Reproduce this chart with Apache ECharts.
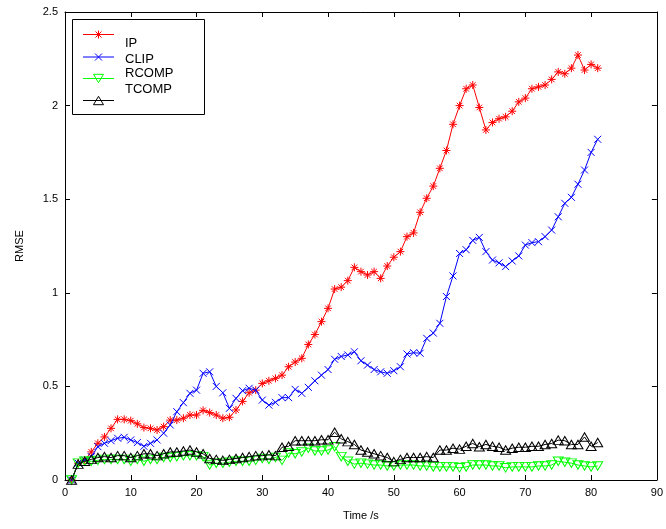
<!DOCTYPE html>
<html>
<head>
<meta charset="utf-8">
<script src="https://cdn.jsdelivr.net/npm/echarts@6/dist/echarts.min.js"></script>
<style>
html,body{margin:0;padding:0;background:#fff;}
#chart{width:666px;height:529px;}
</style>
</head>
<body>
<div id="chart"></div>
<script>
// time steps (s)
const time = [];
for (let t = 1; t <= 81; t++) time.push(t);

const xTicks = [0,10,20,30,40,50,60,70,80,90];
const yTicks = [0,0.5,1,1.5,2,2.5];

const ip = [0,0.09,0.107,0.15,0.196,0.23,0.276,0.324,0.324,0.317,
  0.30,0.28,0.276,0.267,0.285,0.32,0.32,0.33,0.347,0.347,
  0.372,0.36,0.347,0.33,0.335,0.374,0.42,0.466,0.48,0.516,
  0.53,0.543,0.56,0.605,0.63,0.65,0.724,0.777,0.846,0.917,
  1.02,1.03,1.065,1.136,1.113,1.095,1.113,1.077,1.143,1.19,
  1.22,1.30,1.32,1.43,1.505,1.57,1.665,1.76,1.90,2.0,
  2.09,2.11,1.99,1.87,1.91,1.93,1.94,1.97,2.02,2.04,
  2.09,2.10,2.11,2.14,2.18,2.17,2.20,2.27,2.19,2.22,2.20];

const clip = [0,0.09,0.107,0.125,0.178,0.196,0.21,0.223,0.228,0.214,
  0.2,0.18,0.196,0.214,0.25,0.294,0.365,0.413,0.463,0.48,
  0.57,0.578,0.50,0.466,0.383,0.436,0.477,0.49,0.48,0.427,
  0.40,0.415,0.44,0.44,0.484,0.463,0.495,0.53,0.56,0.59,
  0.645,0.66,0.668,0.685,0.637,0.614,0.59,0.578,0.57,0.584,
  0.605,0.673,0.68,0.677,0.757,0.785,0.837,0.98,1.09,1.21,
  1.23,1.28,1.296,1.22,1.175,1.16,1.14,1.17,1.197,1.255,
  1.268,1.273,1.30,1.335,1.406,1.478,1.51,1.58,1.656,1.75,1.82];

const rcomp = [0,0.09,0.10,0.10,0.105,0.11,0.11,0.11,0.11,0.10,
  0.11,0.10,0.11,0.11,0.12,0.12,0.125,0.13,0.13,0.13,
  0.125,0.08,0.09,0.09,0.095,0.10,0.10,0.10,0.105,0.115,
  0.11,0.12,0.105,0.144,0.14,0.15,0.17,0.155,0.155,0.16,
  0.178,0.125,0.10,0.085,0.09,0.085,0.08,0.08,0.075,0.075,
  0.08,0.08,0.08,0.075,0.075,0.07,0.07,0.07,0.07,0.065,
  0.07,0.08,0.08,0.08,0.075,0.075,0.065,0.07,0.07,0.07,
  0.07,0.075,0.075,0.08,0.10,0.095,0.09,0.08,0.075,0.07,0.075];

const tcomp = [0,0.085,0.10,0.11,0.12,0.125,0.12,0.13,0.13,0.12,
  0.13,0.14,0.14,0.13,0.14,0.15,0.15,0.155,0.16,0.15,
  0.14,0.115,0.11,0.105,0.11,0.115,0.12,0.125,0.13,0.13,
  0.135,0.13,0.175,0.18,0.21,0.21,0.21,0.21,0.215,0.215,
  0.255,0.22,0.205,0.19,0.16,0.15,0.14,0.13,0.12,0.098,
  0.11,0.12,0.12,0.12,0.125,0.12,0.16,0.16,0.17,0.165,
  0.18,0.195,0.178,0.19,0.18,0.175,0.16,0.17,0.175,0.175,
  0.18,0.18,0.19,0.195,0.213,0.21,0.19,0.19,0.23,0.18,0.2];

const seriesNames = ['IP','CLIP','RCOMP','TCOMP'];
const seriesColors = ['#ff0000','#0000ff','#00ff00','#000000'];

const STAR = 'path://M5,0L5,10M0,5L10,5M1.5,1.5L8.5,8.5M8.5,1.5L1.5,8.5';
const CROSS = 'path://M0,0L10,10M10,0L0,10';
const TRI = 'path://M5,0L10,8.66L0,8.66Z';
const TRI_DOWN = 'path://M0,0L10,0L5,8.66Z';

const symbols = [STAR, CROSS, TRI_DOWN, TRI];
const symbolSizes = [[8,8],[7,7],[10,8.5],[10,8.5]];
const seriesData = [ip, clip, rcomp, tcomp];

const FONT = '"Liberation Sans", Arial, Helvetica, sans-serif';

const chart = echarts.init(document.getElementById('chart'), null, {renderer:'canvas'});

const gridL = 65, gridT = 12, gridR = 8, gridB = 49;

const series = seriesNames.map((name, i) => ({
  name: name,
  type: 'line',
  data: time.map((t, k) => [t, seriesData[i][k]]),
  symbol: symbols[i],
  symbolSize: symbolSizes[i],
  showAllSymbol: true,
  symbolKeepAspect: false,
  lineStyle: {color: seriesColors[i], width: 1},
  itemStyle: {color: 'rgba(0,0,0,0)', borderColor: seriesColors[i], borderWidth: 1},
  emphasis: {disabled: true},
  z: 2 + i,
  animation: false
}));

// legend drawn as graphics (MATLAB-style box)
const lgX = 72, lgY = 19, lgW = 132, lgH = 95;
const lineYs = [34, 56.5, 78, 100];
const textYs = [43.5, 59, 73, 89.5];
const legendEls = [{
  type: 'rect',
  shape: {x: lgX + 0.5, y: lgY + 0.5, width: lgW, height: lgH},
  style: {fill: '#fff', stroke: '#000', lineWidth: 1},
  z: 100
}];
function seg(x1, y1, x2, y2, c) {
  return {type: 'line', shape: {x1, y1, x2, y2}, style: {stroke: c, lineWidth: 1}, z: 102};
}
seriesNames.forEach((name, i) => {
  const cy = lineYs[i] + 0.5, cx = 98.5, c = seriesColors[i];
  legendEls.push(seg(83, cy, 114, cy, c));
  if (i === 0) {
    legendEls.push(seg(cx, cy - 4, cx, cy + 4, c));
    legendEls.push(seg(cx - 4, cy, cx + 4, cy, c));
    legendEls.push(seg(cx - 3, cy - 3, cx + 3, cy + 3, c));
    legendEls.push(seg(cx + 3, cy - 3, cx - 3, cy + 3, c));
  } else if (i === 1) {
    legendEls.push(seg(cx - 3.5, cy - 3.5, cx + 3.5, cy + 3.5, c));
    legendEls.push(seg(cx + 3.5, cy - 3.5, cx - 3.5, cy + 3.5, c));
  } else if (i === 2) {
    legendEls.push({type: 'polygon', shape: {points: [[cx - 5, cy - 4.2], [cx + 5, cy - 4.2], [cx, cy + 4.2]]},
      style: {fill: 'none', stroke: c, lineWidth: 1}, z: 102});
  } else {
    legendEls.push({type: 'polygon', shape: {points: [[cx, cy - 4.2], [cx + 5, cy + 4.2], [cx - 5, cy + 4.2]]},
      style: {fill: 'none', stroke: c, lineWidth: 1}, z: 102});
  }
  legendEls.push({
    type: 'text',
    x: 125, y: textYs[i],
    style: {text: name, font: '13px ' + FONT, fill: '#000', verticalAlign: 'middle', textVerticalAlign: 'middle'},
    z: 102
  });
});

const tickLabelStyle = {color: '#000', fontSize: 11, fontFamily: FONT};
const axisLineStyle = {color: '#000', width: 1};

chart.setOption({
  animation: false,
  backgroundColor: '#fff',
  grid: {left: gridL, top: gridT, right: gridR, bottom: gridB, containLabel: false},
  xAxis: [{
    type: 'value', min: xTicks[0], max: xTicks[xTicks.length-1], interval: 10,
    name: 'Time /s', nameLocation: 'middle', nameGap: 30,
    nameTextStyle: {color: '#000', fontSize: 11, fontFamily: FONT},
    axisLine: {show: true, onZero: false, lineStyle: axisLineStyle},
    axisTick: {show: true, inside: true, length: 5, lineStyle: axisLineStyle},
    axisLabel: {show: true, margin: 7, ...tickLabelStyle},
    splitLine: {show: false}
  }, {
    type: 'value', position: 'top', min: xTicks[0], max: xTicks[xTicks.length-1], interval: 10,
    axisLine: {show: true, onZero: false, lineStyle: axisLineStyle},
    axisTick: {show: true, inside: true, length: 5, lineStyle: axisLineStyle},
    axisLabel: {show: false}, splitLine: {show: false}
  }],
  yAxis: [{
    type: 'value', min: yTicks[0], max: yTicks[yTicks.length-1], interval: 0.5,
    name: 'RMSE', nameLocation: 'middle', nameGap: 40, nameRotate: 90,
    nameTextStyle: {color: '#000', fontSize: 11, fontFamily: FONT},
    axisLine: {show: true, onZero: false, lineStyle: axisLineStyle},
    axisTick: {show: true, inside: true, length: 5, lineStyle: axisLineStyle},
    axisLabel: {show: true, margin: 7, ...tickLabelStyle, formatter: v => String(v)},
    splitLine: {show: false}
  }, {
    type: 'value', position: 'right', min: yTicks[0], max: yTicks[yTicks.length-1], interval: 0.5,
    axisLine: {show: true, onZero: false, lineStyle: axisLineStyle},
    axisTick: {show: true, inside: true, length: 5, lineStyle: axisLineStyle},
    axisLabel: {show: false}, splitLine: {show: false}
  }],
  series: series,
  graphic: legendEls
});
</script>
</body>
</html>
